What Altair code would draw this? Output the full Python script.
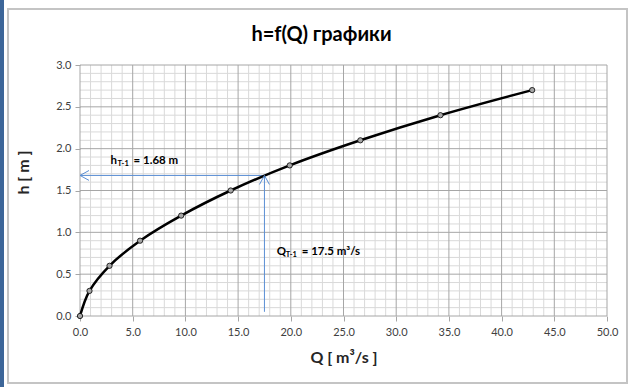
import altair as alt
import pandas as pd

# ---- data ----
Q_vals = [0.0, 0.9, 2.8, 5.7, 9.6, 14.3, 19.9, 26.6, 34.2, 42.9]
h_vals = [0.0, 0.3, 0.6, 0.9, 1.2, 1.5, 1.8, 2.1, 2.4, 2.7]

Q_T = 17.5
h_T = 1.68
h_vline_start = 0.05

major_x = [0, 5, 10, 15, 20, 25, 30, 35, 40, 45, 50]
minor_x = [i for i in range(51) if i % 5 != 0]
major_y = [0.0, 0.5, 1.0, 1.5, 2.0, 2.5, 3.0]
minor_y = [round(i / 10, 1) for i in range(31) if i % 5 != 0]

FONT = "Lato, 'Open Sans', sans-serif"
BLUE = "#5b8fd4"

xs = alt.Scale(domain=[0, 50], nice=False, zero=False)
ys = alt.Scale(domain=[0, 3], nice=False, zero=False)

xaxis = alt.Axis(values=major_x, format=".1f", grid=False, domain=False,
                 ticks=True, tickSize=5, tickColor="#a6a6a6",
                 labelFont=FONT, labelFontSize=11, labelColor="#404040",
                 labelPadding=5, labelFlush=False, labelOverlap=False,
                 title="Q [ m³/s ]", titleFont=FONT, titleFontSize=16,
                 titleFontWeight="bold", titleColor="#262626", titlePadding=12)
yaxis = alt.Axis(values=major_y, format=".1f", grid=False, domain=False,
                 ticks=True, tickSize=5, tickColor="#a6a6a6",
                 labelFont=FONT, labelFontSize=11, labelColor="#404040",
                 labelPadding=4, labelFlush=False, labelOverlap=False,
                 title="h [ m ]", titleFont=FONT, titleFontSize=16,
                 titleFontWeight="bold", titleColor="#262626",
                 titleX=-57, titleY=107, titleAlign="center",
                 titleBaseline="middle")

X = lambda: alt.X("Q:Q", scale=xs, axis=xaxis)
Y = lambda: alt.Y("h:Q", scale=ys, axis=yaxis)

one = pd.DataFrame({"k": [0]})

frame = alt.Chart(one).mark_rect(filled=False, stroke="#c4c4c4", strokeWidth=2,
                                 clip=False).encode(
    x=alt.value(-72), x2=alt.value(547), y=alt.value(-56), y2=alt.value(318))
strip = alt.Chart(one).mark_rect(color="#3d6699", clip=False).encode(
    x=alt.value(-80), x2=alt.value(-76), y=alt.value(-65), y2=alt.value(322))

minor_vx = alt.Chart(pd.DataFrame({"Q": minor_x})).mark_rule(
    color="#d9d9d9", strokeWidth=1).encode(x=X())
minor_hy = alt.Chart(pd.DataFrame({"h": minor_y})).mark_rule(
    color="#d9d9d9", strokeWidth=1).encode(y=Y())
major_vx = alt.Chart(pd.DataFrame({"Q": major_x})).mark_rule(
    color="#a6a6a6", strokeWidth=1).encode(x=X())
major_hy = alt.Chart(pd.DataFrame({"h": major_y})).mark_rule(
    color="#a6a6a6", strokeWidth=1).encode(y=Y())

hline = alt.Chart(pd.DataFrame({"Q": [0.0], "Q2": [Q_T], "h": [h_T]})).mark_rule(
    color=BLUE, strokeWidth=1).encode(x=X(), x2="Q2:Q", y=Y())
vline = alt.Chart(pd.DataFrame({"Q": [Q_T], "h": [h_vline_start], "h2": [h_T]})).mark_rule(
    color=BLUE, strokeWidth=1).encode(x=X(), y=Y(), y2="h2:Q")

arrow_left = alt.Chart(pd.DataFrame({"Q": [0.0], "h": [h_T]})).mark_point(
    shape="M 1 -0.55 L 0 0 L 1 0.55", filled=False, stroke=BLUE,
    strokeWidth=1, size=324, clip=False, opacity=1).encode(x=X(), y=Y())
arrow_up = alt.Chart(pd.DataFrame({"Q": [Q_T], "h": [h_T]})).mark_point(
    shape="M -0.55 1 L 0 0 L 0.55 1", filled=False, stroke=BLUE,
    strokeWidth=1, size=324, opacity=1).encode(x=X(), y=Y())

df = pd.DataFrame({"Q": Q_vals, "h": h_vals})
curve = alt.Chart(df).mark_line(color="black", strokeWidth=2.5,
                                interpolate="catmull-rom").encode(x=X(), y=Y())
pts = alt.Chart(df).mark_point(shape="circle", filled=True, fill="#a6a6a6",
                               stroke="#000000", strokeWidth=0.8, size=28,
                               opacity=1).encode(x=X(), y=Y())

h_anchor = pd.DataFrame({"Q": [2.9], "h": [1.816]})
q_anchor = pd.DataFrame({"Q": [18.66], "h": [0.73]})

def label(anchor, main, sub, rest):
    base = alt.Chart(anchor)
    t1 = base.mark_text(text=main, align="left", baseline="alphabetic", font=FONT,
                        fontSize=11.5, fontWeight="bold", color="#000000").encode(x=X(), y=Y())
    w = 7 if main == "h" else 9
    t2 = base.mark_text(text=sub, align="left", baseline="alphabetic", font=FONT,
                        fontSize=7.5, fontWeight="bold", color="#000000",
                        dx=w, dy=2).encode(x=X(), y=Y())
    t3 = base.mark_text(text=rest, align="left", baseline="alphabetic", font=FONT,
                        fontSize=11.5, fontWeight="bold", color="#000000",
                        dx=w + 16).encode(x=X(), y=Y())
    return [t1, t2, t3]

layers = [frame, strip, minor_vx, minor_hy, major_vx, major_hy, hline, vline,
          curve, pts, arrow_left, arrow_up]
layers += label(h_anchor, "h", "T-1", "= 1.68 m")
layers += label(q_anchor, "Q", "T-1", "= 17.5 m³/s")

chart = alt.layer(*layers).properties(
    width=527, height=251,
    title=alt.TitleParams("h=f(Q) графики", font=FONT, fontSize=20,
                          fontWeight="bold", color="#000000", anchor="middle",
                          dx=-22, offset=0, dy=45),
    autosize=alt.AutoSizeParams(type="none"),
    padding={"left": 80, "top": 65, "right": 23, "bottom": 71},
    background="white",
).configure_view(stroke=None)

chart.save("out.html", embed_options={"renderer": "svg", "actions": False})
